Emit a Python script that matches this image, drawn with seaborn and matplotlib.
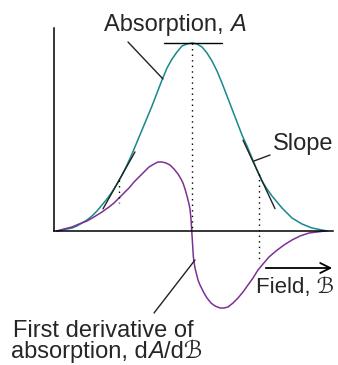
import numpy as np
import pandas as pd
import seaborn as sns
import matplotlib.pyplot as plt

# field positions (arbitrary units) and absorption
field_abs = [3, 8, 13, 18, 23, 28, 33, 38, 43, 48, 53, 58, 63, 68, 73, 78, 83, 88, 93, 98,
             103, 108, 113, 118, 123, 128, 133, 138, 143, 148, 153, 158, 163, 168, 173, 178,
             183, 188, 193, 198, 203, 208, 213, 218, 223, 228, 233, 238, 243, 248, 253, 258,
             263, 268, 273]
absorption = [0, 1, 2, 3, 5, 8, 11, 15, 20, 26, 32, 39, 47, 56, 66, 77, 89, 101, 113, 125,
              138, 151, 163, 172, 179, 185, 187, 188, 187, 184, 178, 170, 160, 148, 135, 122,
              109, 96, 85, 73, 61, 50, 42, 35, 29, 23, 18, 13, 10, 7, 5, 3,
              2, 1, 0]

# first derivative, same field units
field_der = [3, 10, 18, 25, 33, 40, 48, 55, 60, 65, 70, 75, 80, 85, 90, 95, 100, 104, 108,
             112, 116, 120, 124, 127, 129, 131, 133, 134, 135, 136, 137, 137.7, 138.5, 139.3,
             140, 141, 142, 143, 144, 146, 148, 150, 153, 157, 161, 166, 170, 174, 179, 184,
             189, 194, 199, 204, 209, 215, 222, 230, 238, 246, 255, 263, 271]
derivative = [0, 2, 4, 7, 10, 14, 19, 24, 28, 33, 38, 43, 49, 54, 59, 64, 67, 69, 69,
              68, 66, 62, 57, 52, 48, 42, 35, 31, 27, 22, 12, 1, -12, -25,
              -31, -37, -41, -45, -49, -54, -58, -62, -67, -72, -75, -77, -77, -76, -72, -67,
              -61, -54, -47, -39, -33, -26, -20, -14, -9, -5, -2, -1, 0]

# where the slopes are marked
slope_at = [65, 205]

teal = "#15898c"
purple = "#7d3196"
fs = 17

sns.set_theme(style="white")
plt.rcParams['font.family'] = ['Liberation Sans', 'DejaVu Sans']

df_abs = pd.DataFrame({'field': field_abs, 'A': absorption})
df_der = pd.DataFrame({'field': field_der, 'dA': derivative})

fig = plt.figure(figsize=(3.38, 3.65), dpi=100)
ax = fig.add_axes([0, 0, 1, 1])

sns.lineplot(data=df_abs, x='field', y='A', color=teal, lw=1.1, ax=ax)
sns.lineplot(data=df_der, x='field', y='dA', color=purple, lw=1.1, ax=ax)

# axes in pixel-like data units
ax.set_xlim(-54, 284)
ax.set_ylim(-134, 231)
ax.set_xticks([])
ax.set_yticks([])
ax.set_xlabel('')
ax.set_ylabel('')
for s in ['top', 'right']:
    ax.spines[s].set_visible(False)
for s in ['left', 'bottom']:
    ax.spines[s].set_position(('data', 0))
    ax.spines[s].set_color('black')
    ax.spines[s].set_linewidth(1.1)
ax.spines['left'].set_bounds(0, 203)
ax.spines['bottom'].set_bounds(0, 279)

# peak: flat tangent and dotted drop
i_pk = int(np.argmax(absorption))
pk_x, pk_y = field_abs[i_pk], absorption[i_pk]
ax.plot([pk_x - 28, pk_x + 30], [pk_y, pk_y], color='black', lw=1.0)
ax.plot([pk_x, pk_x], [pk_y, 0], color='black', lw=1.0, ls=(0, (1, 3)))

# slope tangents and dotted links to the derivative
for f in slope_at:
    a = np.interp(f, field_abs, absorption)
    k = (np.interp(f + 5, field_abs, absorption) - np.interp(f - 5, field_abs, absorption)) / 10
    d = np.interp(f, field_der, derivative)
    ax.plot([f - 16, f + 16], [a - k * 16, a + k * 16], color='#222222', lw=1.0)
    ax.plot([f, f], [a, d * 0.85], color='black', lw=1.0, ls=(0, (1, 3)))


def chunk_text(x, y, parts, ha='left', size=fs):
    # place text pieces one after another (regular / italic)
    r = fig.canvas.get_renderer()
    inv = ax.transData.inverted()
    objs = []
    cx = x
    for s, style in parts:
        t = ax.text(cx, y, s, fontsize=size, fontstyle=style, va='baseline', ha='left')
        bb = t.get_window_extent(r)
        cx = inv.transform((bb.x1, bb.y0))[0]
        objs.append(t)
    if ha == 'center':
        shift = (cx - x) / 2
        for t in objs:
            t.set_x(t.get_position()[0] - shift)


# labels with leader lines
chunk_text(121, 200, [('Absorption, ', 'normal'), ('A', 'italic')], ha='center')
ax.plot([74, 109], [189, 152], color='#222222', lw=1.0)

ax.text(219, 81, 'Slope', ha='left', va='baseline', fontsize=fs)
ax.plot([200, 216], [70, 76], color='#222222', lw=1.0)

ax.annotate('', xy=(281, -37), xytext=(209, -37),
            arrowprops=dict(arrowstyle='->', color='black', lw=1.3, mutation_scale=18))
ax.text(202, -62, 'Field, \u212c', ha='left', va='baseline', fontsize=16)

ax.text(-41, -106, 'First derivative of', ha='left', va='baseline', fontsize=fs)
chunk_text(-43, -127, [('absorption, d', 'normal'), ('A', 'italic'), ('/d\u212c', 'normal')])
ax.plot([100, 141], [-82, -29], color='#222222', lw=1.0)

fig.savefig('out.png', dpi=100)
